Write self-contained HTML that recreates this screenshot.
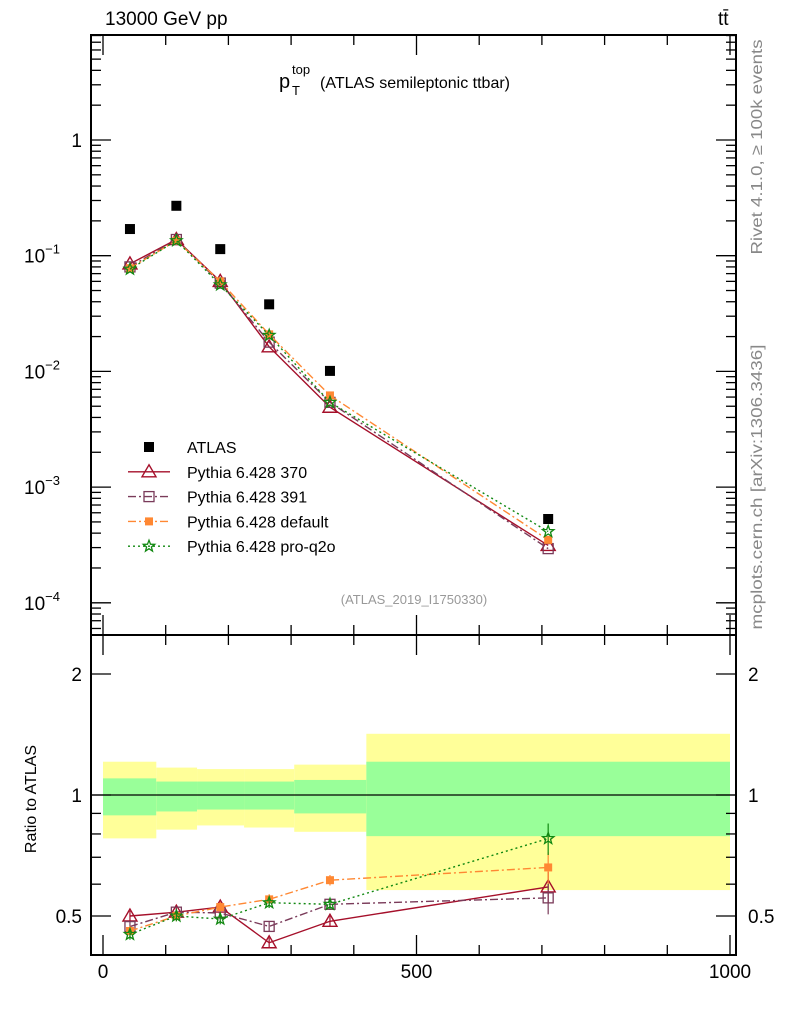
<!DOCTYPE html>
<html><head><meta charset="utf-8"><style>
body{margin:0;background:#fff;font-family:"Liberation Sans",sans-serif}
svg text{font-family:"Liberation Sans",sans-serif}
</style></head><body>
<svg id="c" width="786" height="1024" viewBox="0 0 786 1024" xmlns="http://www.w3.org/2000/svg">
<g id="bands"></g><g id="grid"></g><g id="series"></g><g id="axes"></g>
<text x="105" y="25" font-size="19">13000 GeV pp</text>
<text x="718" y="25" font-size="19">tt̄</text>
<g>
<text x="279" y="88" font-size="20">p</text>
<text x="292" y="74" font-size="13">top</text>
<text x="292" y="95" font-size="13">T</text>
<text x="320" y="88" font-size="16">(ATLAS semileptonic ttbar)</text>
</g>
<text x="414" y="604" font-size="13" fill="#999" text-anchor="middle">(ATLAS_2019_I1750330)</text>
<text transform="translate(762,147) rotate(-90)" font-size="16" fill="#888" text-anchor="middle" textLength="215" lengthAdjust="spacingAndGlyphs">Rivet 4.1.0, ≥ 100k events</text>
<text transform="translate(762,487) rotate(-90)" font-size="16" fill="#888" text-anchor="middle" textLength="285" lengthAdjust="spacingAndGlyphs">mcplots.cern.ch [arXiv:1306.3436]</text>
<text transform="translate(36,799) rotate(-90)" font-size="16" text-anchor="middle">Ratio to ATLAS</text>
<g id="legend"></g>
</svg>
<script>
const binEdges=[0,85,150,225,305,420,1000];
const binCenters=[43,117,187,265,362,710];
const atlas=[0.17,0.27,0.114,0.038,0.0101,0.00053];
const py370=[0.085,0.138,0.060,0.0163,0.0049,0.000313];
const py391=[0.080,0.138,0.058,0.0179,0.0054,0.000294];
const pyDef=[0.078,0.135,0.060,0.0209,0.0062,0.00035];
const pyQ2o=[0.0765,0.135,0.056,0.0205,0.0054,0.000413];
const bandYellowHi=[1.21,1.17,1.16,1.16,1.19,1.42];
const bandYellowLo=[0.78,0.82,0.84,0.83,0.81,0.58];
const bandGreenHi=[1.10,1.08,1.08,1.08,1.09,1.21];
const bandGreenLo=[0.89,0.91,0.92,0.92,0.90,0.79];
const xTicks=[0,500,1000];
const yTicks=[1,0.1,0.01,0.001,0.0001];
const yTickLabels=['1','10','10','10','10'];
const yTickExp=['','−1','−2','−3','−4'];
const rTicks=[0.5,1,2];

const L=91,R=736,T=35,MB=635,B=955;
const X=v=>103+v*0.627;
const Y=v=>140-115.7*Math.log10(v);
const RY=v=>795-121*Math.log2(v);
const NS='http://www.w3.org/2000/svg';
function mk(tag,attrs,parent){const e=document.createElementNS(NS,tag);for(const k in attrs)e.setAttribute(k,attrs[k]);document.getElementById(parent).appendChild(e);return e;}

for(let i=0;i<6;i++){
 let r=mk('rect',{x:X(binEdges[i]),y:RY(bandYellowHi[i]),width:X(binEdges[i+1])-X(binEdges[i]),height:RY(bandYellowLo[i])-RY(bandYellowHi[i]),fill:'#ffff99'},'bands');
 
 
 let g=mk('rect',{x:X(binEdges[i]),y:RY(bandGreenHi[i]),width:X(binEdges[i+1])-X(binEdges[i]),height:RY(bandGreenLo[i])-RY(bandGreenHi[i]),fill:'#99ff99'},'bands');
 
 
}
mk('line',{x1:L,x2:R,y1:RY(1),y2:RY(1),stroke:'#000','stroke-width':1.2},'grid');

mk('rect',{x:L,y:T,width:R-L,height:MB-T,fill:'none',stroke:'#000','stroke-width':2},'axes');
mk('rect',{x:L,y:MB,width:R-L,height:B-MB,fill:'none',stroke:'#000','stroke-width':2},'axes');
function tk(x1,y1,x2,y2){mk('line',{x1,y1,x2,y2,stroke:'#000','stroke-width':1.3},'axes');}
for(let v=0;v<=1000;v+=100){const maj=v%500===0,len=maj?20:10;
 for(const [t,b] of [[T,MB],[MB,B]]){tk(X(v),b,X(v),b-len);tk(X(v),t,X(v),t+len);}}
xTicks.forEach(v=>{const t=mk('text',{x:X(v),y:978,'font-size':19,'text-anchor':'middle'},'axes');t.textContent=v;
 
 });
for(let d=-5;d<=0;d++)for(let m=1;m<10;m++){const v=m*Math.pow(10,d),y=Y(v);if(y<T||y>MB)continue;const len=m===1?20:10;tk(L,y,L+len,y);tk(R,y,R-len,y);}
yTicks.forEach((v,i)=>{const t=mk('text',{x:yTickExp[i]?64:82,y:Y(v)+7,'font-size':19,'text-anchor':'end'},'axes');
 
 
 if(yTickExp[i]){t.textContent=yTickLabels[i];t.setAttribute('x',60);const s=document.createElementNS(NS,'tspan');s.setAttribute('dy','-9');s.setAttribute('font-size','13');s.textContent=yTickExp[i];t.appendChild(s);}else{t.textContent=yTickLabels[i];}});
[0.4,0.5,0.6,0.7,0.8,0.9,1,2].forEach(v=>{const y=RY(v);if(y<MB||y>B)return;const len=(v===0.5||v===1||v===2)?20:10;tk(L,y,L+len,y);tk(R,y,R-len,y);});
rTicks.forEach(v=>{for(const [x,a] of [[82,'end'],[748,'start']]){const t=mk('text',{x,y:RY(v)+7,'font-size':19,'text-anchor':a},'axes');t.textContent=v;
 
 }});

function marker(kind,x,y,color,parent){
 if(kind==='sqf')return mk('rect',{x:x-5,y:y-5,width:10,height:10,fill:color},parent);
 if(kind==='sqo')return mk('rect',{x:x-5,y:y-5,width:10,height:10,fill:'none',stroke:color,'stroke-width':1.3},parent);
 if(kind==='sqs')return mk('rect',{x:x-4,y:y-4,width:8,height:8,fill:color},parent);
 if(kind==='tri')return mk('polygon',{points:`${x},${y-7} ${x-7},${y+5} ${x+7},${y+5}`,fill:'none',stroke:color,'stroke-width':1.4},parent);
 if(kind==='star'){let p=[];for(let k=0;k<10;k++){const r=k%2?2.5:6,a=-Math.PI/2+k*Math.PI/5;p.push((x+r*Math.cos(a)).toFixed(1)+','+(y+r*Math.sin(a)).toFixed(1));}
  return mk('polygon',{points:p.join(' '),fill:'none',stroke:color,'stroke-width':1.3},parent);}
}
const series=[
 {name:'Pythia 6.428 370',vals:py370,color:'#a50f2a',dash:'',m:'tri',id:'py370'},
 {name:'Pythia 6.428 391',vals:py391,color:'#7a3b5a',dash:'8,3,2,3',m:'sqo',id:'py391'},
 {name:'Pythia 6.428 default',vals:pyDef,color:'#ff8833',dash:'8,3,2,3',m:'sqs',id:'pydefault'},
 {name:'Pythia 6.428 pro-q2o',vals:pyQ2o,color:'#118811',dash:'2,3',m:'star',id:'pyq2o'}];
series.forEach(s=>{
 const pts=s.vals.map((v,i)=>X(binCenters[i])+','+Y(v)).join(' ');
 const l=mk('polyline',{points:pts,fill:'none',stroke:s.color,'stroke-width':1.4,'stroke-dasharray':s.dash},'series');
 
 
 const rp=s.vals.map((v,i)=>X(binCenters[i])+','+RY(v/atlas[i])).join(' ');
 const rl=mk('polyline',{points:rp,fill:'none',stroke:s.color,'stroke-width':1.4,'stroke-dasharray':s.dash},'series');
 
 
 s.vals.forEach((v,i)=>{
  const m=marker(s.m,X(binCenters[i]),Y(v),s.color,'series');
  
  
  const r=v/atlas[i],e=i===5?0.09:0.03;
  mk('line',{x1:X(binCenters[i]),x2:X(binCenters[i]),y1:RY(r*(1+e)),y2:RY(r*(1-e)),stroke:s.color,'stroke-width':1.2},'series');
  const rm=marker(s.m,X(binCenters[i]),RY(r),s.color,'series');
  
  
 });
});
atlas.forEach((v,i)=>{const m=marker('sqf',X(binCenters[i]),Y(v),'#000','series');
 
 });

const leg=[{name:'ATLAS',m:'sqf',color:'#000',dash:null}].concat(series);
leg.forEach((s,i)=>{const y=447+i*24.8;
 if(s.dash!==null){mk('line',{x1:128,x2:170,y1:y,y2:y,stroke:s.color,'stroke-width':1.4,'stroke-dasharray':s.dash},'legend');}
 const m=marker(s.m,149,y,s.color,'legend');
 
 
 const t=mk('text',{x:187,y:y+6,'font-size':16},'legend');t.textContent=s.name;
 
 
});
</script>
</body></html>
